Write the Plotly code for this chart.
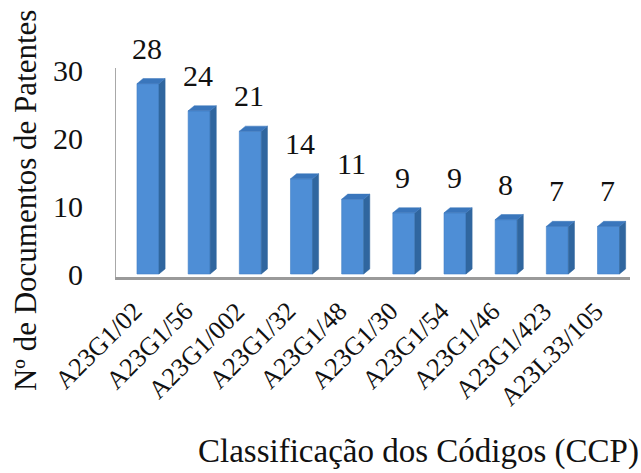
import plotly.graph_objects as go

# Patent document counts per classification code
codes = ["A23G1/02", "A23G1/56", "A23G1/002", "A23G1/32", "A23G1/48",
         "A23G1/30", "A23G1/54", "A23G1/46", "A23G1/423", "A23L33/105"]
counts = [28, 24, 21, 14, 11, 9, 9, 8, 7, 7]
y_ticks = [0, 10, 20, 30]

FONT = "Liberation Serif"
FRONT = "#4E8ED6"
SIDE = "#30669F"
TOP = "#3A76BC"
INK = "#111111"

bar_w = 0.43      # width of the front face (category units)
depth_x = 0.12    # horizontal extrusion of the 3-D faces
depth_y = 0.75    # vertical extrusion of the 3-D faces (value units)

xs = list(range(len(codes)))

# polygons for the right-hand side faces and the top faces of each column
side_x, side_y, top_x, top_y = [], [], [], []
for x, v in zip(xs, counts):
    r = x + bar_w / 2
    l = x - bar_w / 2
    side_x += [r, r + depth_x, r + depth_x, r, r, None]
    side_y += [0, depth_y, v + depth_y, v, 0, None]
    top_x += [l, r, r + depth_x, l + depth_x, l, None]
    top_y += [v, v, v + depth_y, v + depth_y, v, None]

fig = go.Figure()
fig.add_trace(go.Scatter(x=side_x, y=side_y, mode="lines", fill="toself",
                         fillcolor=SIDE, line=dict(color=SIDE, width=0.5),
                         hoverinfo="skip", showlegend=False))
fig.add_trace(go.Scatter(x=top_x, y=top_y, mode="lines", fill="toself",
                         fillcolor=TOP, line=dict(color=TOP, width=0.5),
                         hoverinfo="skip", showlegend=False))
fig.add_trace(go.Bar(x=xs, y=counts, width=bar_w, marker=dict(
    color=FRONT, line=dict(color="#437FC6", width=0.6)),
    showlegend=False, hoverinfo="x+y"))

# value labels above the columns
for x, v in zip(xs, counts):
    fig.add_annotation(x=x, y=v, text=str(v), showarrow=False,
                       yanchor="bottom", yshift=17, xshift=-1,
                       font=dict(family=FONT, size=30, color=INK))

# slanted category labels hanging below the baseline
for x, c in zip(xs, codes):
    fig.add_annotation(x=x, y=0, yref="paper", text=c, textangle=-45,
                       showarrow=False, xanchor="right", yanchor="top",
                       xshift=3, yshift=-17,
                       font=dict(family=FONT, size=26, color=INK))

fig.add_annotation(text="Nº de Documentos de Patentes", textangle=-90,
                   xref="paper", yref="paper", x=-0.177, y=0.368,
                   xanchor="center", yanchor="middle", showarrow=False,
                   font=dict(family=FONT, size=31, color=INK))
fig.add_annotation(text="Classificação dos Códigos (CCP)",
                   xref="paper", yref="paper", x=0.5885, y=-0.837,
                   xanchor="center", yanchor="middle", showarrow=False,
                   font=dict(family=FONT, size=33, color=INK))

fig.update_layout(
    width=641, height=473,
    margin=dict(l=116, r=11, t=68, b=196),
    plot_bgcolor="white", paper_bgcolor="white",
    barmode="overlay",
    font=dict(family=FONT),
    xaxis=dict(range=[-0.625, 9.42], tickvals=xs, showticklabels=False,
               showgrid=False, zeroline=False,
               showline=True, linecolor="#9A9A9A", linewidth=2.5, ticks=""),
    yaxis=dict(range=[-0.44, 30.3], tickvals=y_ticks, showgrid=False,
               zeroline=False, showline=True, linecolor="#A8A8A8",
               linewidth=1, ticks="", ticklabelstandoff=26,
               tickfont=dict(family=FONT, size=30, color=INK)),
)

fig.write_html("out.html")
